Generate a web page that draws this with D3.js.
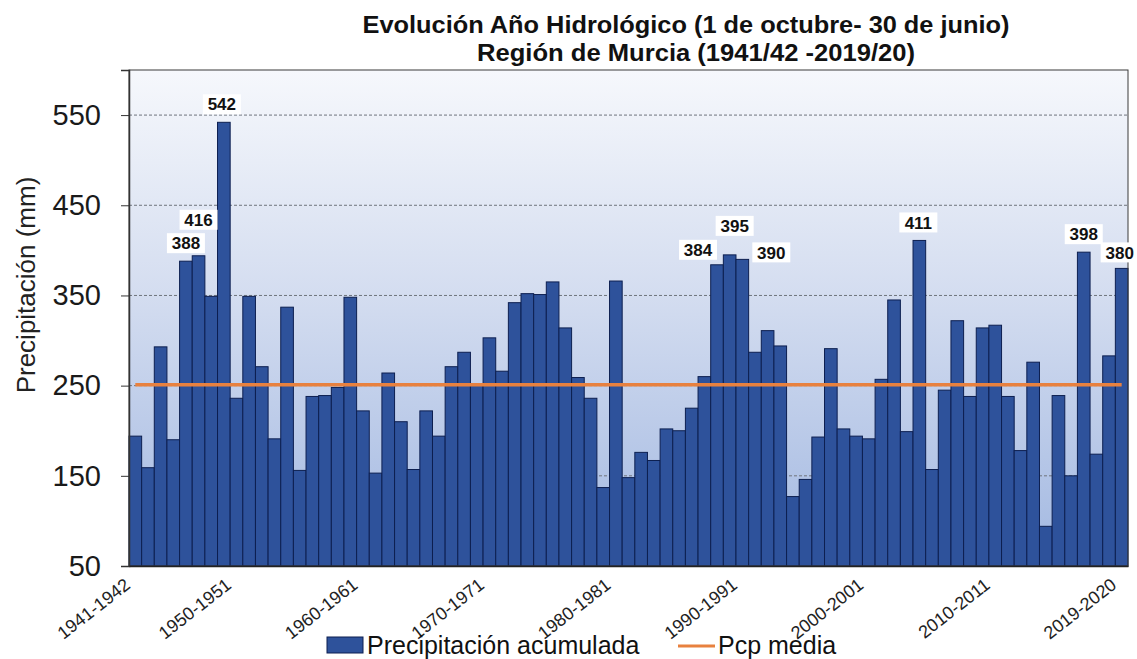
<!DOCTYPE html>
<html>
<head>
<meta charset="utf-8">
<script src="https://cdn.jsdelivr.net/npm/d3@7"></script>
<style>
  html, body { margin: 0; padding: 0; background: #fff; }
  text { font-family: "Liberation Sans", Arial, sans-serif; }
</style>
</head>
<body>
<svg id="chart" width="1137" height="659"></svg>
<script>
// ---------- data ----------
const firstYear = 1941;
const lastYear = 2019;
const categories = d3.range(firstYear, lastYear + 1).map(y => `${y}-${y + 1}`);

const precipitation = [
  194, 159, 293, 190, 388, 394, 349, 542, 236, 349,
  271, 191, 337, 156, 238, 239, 248, 348, 222, 153,
  264, 210, 157, 222, 194, 271, 287, 252, 303, 266,
  342, 352, 351, 365, 314, 259, 236, 137, 366, 148,
  176, 167, 202, 200, 225, 260, 384, 395, 390, 287,
  311, 294, 127, 146, 193, 291, 202, 194, 191, 257,
  345, 199, 411, 157, 245, 322, 238, 314, 317, 238,
  178, 276, 94, 239, 150, 398, 174, 283, 380
];

const meanValue = 251;

const yTicks = [50, 150, 250, 350, 450, 550];

const tickIndex = [0, 8, 18, 28, 38, 48, 58, 68, 78];
const tickLabels = ["1941-1942", "1950-1951", "1960-1961", "1970-1971", "1980-1981",
                    "1990-1991", "2000-2001", "2010-2011", "2019-2020"];

const labelIndex = [4, 5, 7, 46, 47, 48, 62, 75, 78];
const labelText = ["388", "416", "542", "384", "395", "390", "411", "398", "380"];

// label nudges (styling/layout only)
const labelDx = [0, 0, -2, -19, 5, 29, -1, 0, -2];
const labelDy = [-18, -36, -18, -15, -29, -7, -18, -18, -16];

const titleLines = ["Evolución Año Hidrológico (1 de octubre- 30 de junio)",
                    "Región de Murcia (1941/42 -2019/20)"];
const yTitle = "Precipitación (mm)";
const legendBar = "Precipitación acumulada";
const legendLine = "Pcp media";

// ---------- layout ----------
const svg = d3.select("#chart");
const plot = { left: 129, right: 1128, top: 70, bottom: 566 };

const x = d3.scaleBand().domain(categories).range([plot.left, plot.right]).padding(0);
const y = d3.scaleLinear().domain([50, 600]).range([plot.bottom, plot.top]);

const barFill = "#2E529B";
const barStroke = "#0D1F50";
const orange = "#E8813F";

// background gradient
const defs = svg.append("defs");
const grad = defs.append("linearGradient").attr("id", "bg").attr("x1", 0).attr("y1", 0).attr("x2", 0).attr("y2", 1);
grad.append("stop").attr("offset", "0%").attr("stop-color", "#F6F8FC");
grad.append("stop").attr("offset", "45%").attr("stop-color", "#D4DDF0");
grad.append("stop").attr("offset", "100%").attr("stop-color", "#A2B8E1");

svg.append("rect")
  .attr("x", plot.left).attr("y", plot.top)
  .attr("width", plot.right - plot.left).attr("height", plot.bottom - plot.top)
  .attr("fill", "url(#bg)");

// gridlines
svg.append("g").selectAll("line")
  .data(yTicks.filter(t => t > 50))
  .join("line")
  .attr("x1", plot.left).attr("x2", plot.right)
  .attr("y1", d => y(d)).attr("y2", d => y(d))
  .attr("stroke", "#6f747c").attr("stroke-width", 1)
  .attr("stroke-dasharray", "3,2");

// bars
svg.append("g").selectAll("rect")
  .data(precipitation)
  .join("rect")
  .attr("x", (d, i) => x(categories[i]))
  .attr("y", d => y(d))
  .attr("width", x.bandwidth())
  .attr("height", d => y(50) - y(d))
  .attr("fill", barFill)
  .attr("stroke", barStroke)
  .attr("stroke-width", 1);

// mean line
const meanLine = d3.line()
  .x(d => x(d) + x.bandwidth() / 2)
  .y(() => y(meanValue));
svg.append("path")
  .datum(categories)
  .attr("d", meanLine)
  .attr("fill", "none")
  .attr("stroke", orange)
  .attr("stroke-width", 3.5);

// frame
svg.append("rect")
  .attr("x", plot.left).attr("y", plot.top)
  .attr("width", plot.right - plot.left).attr("height", plot.bottom - plot.top)
  .attr("fill", "none").attr("stroke", "#3a3a3a").attr("stroke-width", 1);

// y axis
const yAxis = svg.append("g")
  .attr("transform", `translate(${plot.left},0)`)
  .call(d3.axisLeft(y).tickValues(yTicks).tickSize(8).tickPadding(20));
yAxis.select(".domain").attr("stroke", "#333").attr("stroke-width", 1.5);
yAxis.selectAll(".tick line").attr("stroke", "#333");
yAxis.selectAll(".tick text")
  .attr("font-size", 29).attr("fill", "#1a1a1a")
  .attr("font-family", "'Liberation Sans', Arial, sans-serif");

// x axis
const xAxis = svg.append("g")
  .attr("transform", `translate(0,${plot.bottom})`)
  .call(d3.axisBottom(x)
    .tickValues(tickIndex.map(i => categories[i]))
    .tickFormat(d => tickLabels[tickIndex.indexOf(categories.indexOf(d))])
    .tickSize(0));
xAxis.select(".domain").attr("stroke", "#222").attr("stroke-width", 1.5);
xAxis.selectAll(".tick text")
  .attr("font-size", 18).attr("fill", "#222")
  .attr("font-family", "'Liberation Sans', Arial, sans-serif")
  .attr("text-anchor", "end")
  .attr("dy", 0)
  .attr("y", 0)
  .attr("transform", "translate(-4,21) rotate(-38)");

// data labels
const lab = svg.append("g").selectAll("g")
  .data(labelIndex)
  .join("g")
  .attr("transform", (d, k) => {
    const cx = x(categories[d]) + x.bandwidth() / 2 + labelDx[k];
    const cy = y(precipitation[d]) + labelDy[k];
    return `translate(${cx},${cy})`;
  });
lab.append("rect")
  .attr("x", -19).attr("y", -10).attr("width", 38).attr("height", 20)
  .attr("fill", "#ffffff");
lab.append("text")
  .attr("text-anchor", "middle")
  .attr("dy", "0.36em")
  .attr("font-size", 17).attr("font-weight", "bold").attr("fill", "#111")
  .text((d, k) => labelText[k]);

// title
svg.append("text")
  .attr("x", 686).attr("y", 33)
  .attr("text-anchor", "middle")
  .attr("font-size", 23).attr("font-weight", "bold").attr("fill", "#111")
  .attr("textLength", 647).attr("lengthAdjust", "spacingAndGlyphs")
  .text(titleLines[0]);
svg.append("text")
  .attr("x", 696).attr("y", 61)
  .attr("text-anchor", "middle")
  .attr("font-size", 23).attr("font-weight", "bold").attr("fill", "#111")
  .attr("textLength", 438).attr("lengthAdjust", "spacingAndGlyphs")
  .text(titleLines[1]);

// y title
svg.append("text")
  .attr("transform", `translate(35,${285}) rotate(-90)`)
  .attr("text-anchor", "middle")
  .attr("font-size", 26).attr("fill", "#222")
  .text(yTitle);

// legend
const lg = svg.append("g");
lg.append("rect")
  .attr("x", 327).attr("y", 637).attr("width", 36).attr("height", 16)
  .attr("fill", barFill).attr("stroke", barStroke).attr("stroke-width", 1);
lg.append("text")
  .attr("x", 367).attr("y", 654)
  .attr("font-size", 25).attr("fill", "#111")
  .text(legendBar);
lg.append("line")
  .attr("x1", 678).attr("x2", 715).attr("y1", 646).attr("y2", 646)
  .attr("stroke", orange).attr("stroke-width", 3);
lg.append("text")
  .attr("x", 718).attr("y", 654)
  .attr("font-size", 25).attr("fill", "#111")
  .text(legendLine);
</script>
</body>
</html>
